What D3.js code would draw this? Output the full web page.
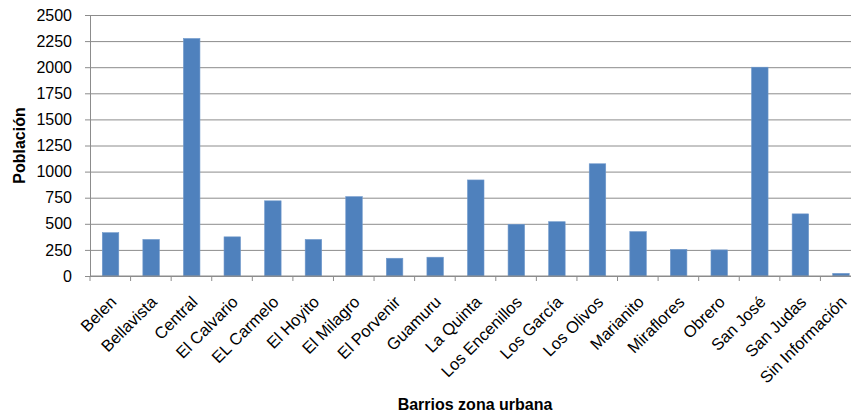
<!DOCTYPE html>
<html>
<head>
<meta charset="utf-8">
<script src="https://cdn.jsdelivr.net/npm/d3@7"></script>
<style>
  body { margin: 0; background: #fff; }
  svg { display: block; font-family: "Liberation Sans", Arial, sans-serif; }
  .grid line { stroke: #8c8c8c; stroke-width: 1; }
  .grid path { display: none; }
  .tick text { fill: #000; }
</style>
</head>
<body>
<div id="chart"></div>
<script>
const w = 851;
const h = 415;
const margin = { top: 15, right: -10, bottom: 139, left: 90 };

// data
const barrios = ["Belen", "Bellavista", "Central", "El Calvario", "EL Carmelo", "El Hoyito",
  "El Milagro", "El Porvenir", "Guamuru", "La Quinta", "Los Encenillos", "Los García",
  "Los Olivos", "Marianito", "Miraflores", "Obrero", "San José", "San Judas", "Sin Información"];
const poblacion = [415, 350, 2275, 375, 720, 350, 760, 170, 180, 920, 495, 520,
  1075, 425, 255, 250, 2000, 595, 25];
const yTicks = [0, 250, 500, 750, 1000, 1250, 1500, 1750, 2000, 2250, 2500];

const data = barrios.map((b, i) => ({ name: b, value: poblacion[i] }));

const width = w - margin.left - margin.right;
const height = h - margin.top - margin.bottom;

const svg = d3.select("#chart").append("svg")
    .attr("width", w)
    .attr("height", h);

const chart = svg.append("g")
    .attr("transform", `translate(${margin.left}, ${margin.top})`);

const xb = d3.scaleBand().domain(barrios).range([0, width]);

const y = d3.scaleLinear()
    .domain([0, 2500])
    .range([height, 0]);

// gridlines
chart.append("g")
    .attr("class", "grid")
    .call(d3.axisLeft(y).tickValues(yTicks).tickSize(-width).tickFormat(""));

// y axis labels
const yAxis = chart.append("g")
    .call(d3.axisLeft(y).tickValues(yTicks).tickSize(5).tickPadding(13).tickFormat(d3.format("d")));
yAxis.select(".domain").attr("stroke", "#8c8c8c");
yAxis.selectAll(".tick line").attr("stroke", "#8c8c8c");
yAxis.selectAll("text").style("font-size", "16px").style("font-family", "Liberation Sans, Arial, sans-serif");

// bars
chart.selectAll(".bar")
    .data(data)
    .enter().append("rect")
    .attr("class", "bar")
    .attr("x", d => xb(d.name) + xb.bandwidth() / 2 - 8)
    .attr("width", 16.5)
    .attr("y", d => y(d.value))
    .attr("height", d => height - y(d.value))
    .attr("fill", "#4f81bd")
    .attr("stroke", "#6f98cb")
    .attr("stroke-width", 0.6);

// x axis
const xAxis = chart.append("g")
    .attr("transform", `translate(0, ${height})`);
xAxis.append("line")
    .attr("x1", 0).attr("x2", width)
    .attr("stroke", "#8c8c8c");
xAxis.selectAll(".xt")
    .data(barrios.concat([null]))
    .enter().append("line")
    .attr("x1", (d, i) => i * xb.bandwidth())
    .attr("x2", (d, i) => i * xb.bandwidth())
    .attr("y1", 0).attr("y2", 5)
    .attr("stroke", "#8c8c8c");

xAxis.selectAll(".xl")
    .data(barrios)
    .enter().append("text")
    .attr("transform", d => `translate(${xb(d) + xb.bandwidth() / 2 + 3}, 23) rotate(-45)`)
    .attr("text-anchor", "end")
    .attr("dy", "0.35em")
    .style("font-size", "16.5px")
    .text(d => d);

// axis titles
svg.append("text")
    .attr("transform", `translate(25, ${margin.top + height / 2}) rotate(-90)`)
    .attr("text-anchor", "middle")
    .style("font-size", "16px")
    .style("font-weight", "bold")
    .text("Población");

svg.append("text")
    .attr("x", 475)
    .attr("y", 410)
    .attr("text-anchor", "middle")
    .style("font-size", "16px")
    .style("font-weight", "bold")
    .text("Barrios zona urbana");
</script>
</body>
</html>
